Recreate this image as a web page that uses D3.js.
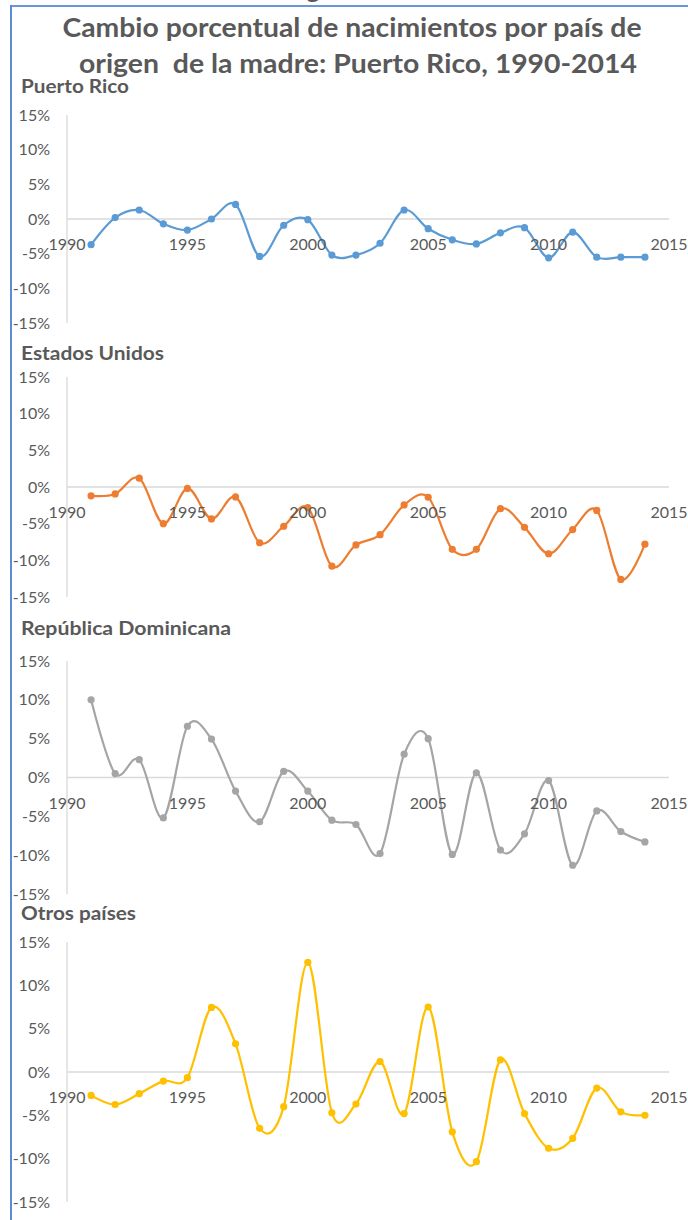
<!DOCTYPE html>
<html>
<head>
<meta charset="utf-8">
<script src="https://cdn.jsdelivr.net/npm/d3@7"></script>
<style>
  html, body { margin: 0; padding: 0; background: #fff; }
  svg { display: block; }
  text { white-space: pre; }
</style>
</head>
<body>
<svg id="chart" width="688" height="1220"></svg>
<script>
// ---- data ----
const years = [1991,1992,1993,1994,1995,1996,1997,1998,1999,2000,2001,2002,2003,2004,2005,2006,2007,2008,2009,2010,2011,2012,2013,2014];
const puertoRico = [-3.7,0.2,1.3,-0.7,-1.6,0.0,2.1,-5.4,-0.9,-0.1,-5.2,-5.2,-3.5,1.3,-1.4,-3.0,-3.6,-2.0,-1.25,-5.6,-1.9,-5.5,-5.5,-5.5];
const estadosUnidos = [-1.2,-0.95,1.2,-5.0,-0.2,-4.35,-1.35,-7.6,-5.35,-2.8,-10.8,-7.9,-6.5,-2.45,-1.4,-8.5,-8.5,-2.95,-5.5,-9.1,-5.8,-3.2,-12.6,-7.8];
const republicaDominicana = [10.0,0.5,2.3,-5.2,6.6,4.95,-1.75,-5.7,0.8,-1.75,-5.5,-6.05,-9.8,3.0,5.0,-9.9,0.6,-9.35,-7.25,-0.4,-11.3,-4.3,-6.95,-8.3];
const otrosPaises = [-2.7,-3.75,-2.5,-1.05,-0.65,7.45,3.25,-6.5,-4.0,12.65,-4.7,-3.7,1.2,-4.8,7.5,-6.9,-10.35,1.4,-4.8,-8.8,-7.65,-1.85,-4.6,-5.0];
const seriesNames = ["Puerto Rico","Estados Unidos","República Dominicana","Otros países"];
const seriesValues = [puertoRico, estadosUnidos, republicaDominicana, otrosPaises];
const seriesColors = ["#5B9BD5","#ED7D31","#A5A5A5","#FFC000"];
const yTickValues = [15,10,5,0,-5,-10,-15];
const xTickValues = [1990,1995,2000,2005,2010,2015];
const titleLines = ["Cambio porcentual de nacimientos por país de","origen  de la madre: Puerto Rico, 1990-2014"];

// ---- layout ----
const svg = d3.select("#chart");
const textColor = "#595959";
const axisColor = "#D9D9D9";
const panels = [
  {top:115, bottom:323, titleY:93,  titleW:108},
  {top:377, bottom:597, titleY:360, titleW:143},
  {top:661, bottom:894, titleY:635, titleW:210},
  {top:942, bottom:1202, titleY:920, titleW:115}
];
const x = d3.scaleLinear().domain([1990,2015]).range([67,669]);

// frame lines
svg.append("line").attr("x1",11).attr("x2",688).attr("y1",6).attr("y2",6)
  .attr("stroke","#6A95D8").attr("stroke-width",2);
svg.append("line").attr("x1",11).attr("x2",11).attr("y1",5).attr("y2",1220)
  .attr("stroke","#5B8BD4").attr("stroke-width",2);
// clipped glyph above frame
svg.append("text").attr("x",313).attr("y",-2).attr("text-anchor","middle")
  .attr("font-family","Lato").attr("font-weight","bold").attr("font-size",26)
  .attr("fill",textColor).text("g");

// title
const titleSpecs = [{y:37, cx:352, w:579},{y:73, cx:358, w:558}];
titleLines.forEach((t,i)=>{
  svg.append("text")
    .attr("x",titleSpecs[i].cx).attr("y",titleSpecs[i].y)
    .attr("text-anchor","middle")
    .attr("font-family","Lato").attr("font-weight","bold").attr("font-size",26)
    .attr("fill",textColor)
    .attr("textLength",titleSpecs[i].w).attr("lengthAdjust","spacingAndGlyphs")
    .text(t);
});

const line = d3.line().curve(d3.curveCardinal.tension(0));

panels.forEach((p,i)=>{
  const y = d3.scaleLinear().domain([-15,15]).range([p.bottom,p.top]);
  const g = svg.append("g");
  // panel title
  g.append("text").attr("x",21).attr("y",p.titleY)
    .attr("font-family","Lato").attr("font-weight","bold").attr("font-size",18)
    .attr("fill",textColor)
    .attr("textLength",p.titleW).attr("lengthAdjust","spacingAndGlyphs")
    .text(seriesNames[i]);
  // vertical axis
  g.append("line").attr("x1",x(1990)).attr("x2",x(1990))
    .attr("y1",y(15)).attr("y2",y(-15))
    .attr("stroke",axisColor).attr("stroke-width",1.3);
  // zero line
  g.append("line").attr("x1",x(1990)).attr("x2",x(2015))
    .attr("y1",y(0)).attr("y2",y(0))
    .attr("stroke",axisColor).attr("stroke-width",1.3);
  // y tick labels
  g.selectAll(".yt").data(yTickValues).enter().append("text")
    .attr("x",50).attr("y",d=>y(d)).attr("dy","0.35em")
    .attr("text-anchor","end")
    .attr("font-family","Lato").attr("font-size",16).attr("fill",textColor)
    .text(d=>d+"%");
  // series
  const pts = years.map((yr,k)=>[x(yr), y(seriesValues[i][k])]);
  g.append("path").attr("d",line(pts)).attr("fill","none")
    .attr("stroke",seriesColors[i]).attr("stroke-width",2.2)
    .attr("stroke-linejoin","round").attr("stroke-linecap","round");
  g.selectAll(".pt").data(pts).enter().append("circle")
    .attr("cx",d=>d[0]).attr("cy",d=>d[1]).attr("r",3.6)
    .attr("fill",seriesColors[i]);
  // x tick labels
  g.selectAll(".xt").data(xTickValues).enter().append("text")
    .attr("x",d=>x(d)).attr("y",y(0)+31)
    .attr("text-anchor","middle")
    .attr("font-family","Lato").attr("font-size",16).attr("fill",textColor)
    .text(d=>d);
});
</script>
</body>
</html>
